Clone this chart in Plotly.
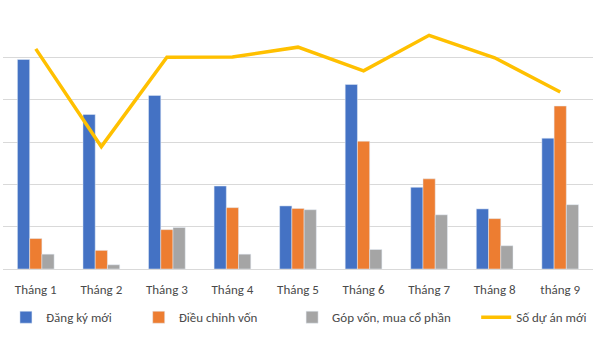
import plotly.graph_objects as go

months = ["Tháng 1", "Tháng 2", "Tháng 3", "Tháng 4", "Tháng 5", "Tháng 6", "Tháng 7", "Tháng 8", "tháng 9"]
dang_ky_moi = [4.95, 3.65, 4.10, 1.96, 1.49, 4.36, 1.93, 1.42, 3.09]
dieu_chinh_von = [0.72, 0.44, 0.93, 1.45, 1.43, 3.02, 2.13, 1.19, 3.85]
gop_von = [0.35, 0.10, 0.98, 0.35, 1.40, 0.46, 1.28, 0.55, 1.52]
so_du_an_moi = [5.20, 2.89, 5.00, 5.01, 5.24, 4.68, 5.52, 4.99, 4.18]

font = dict(family="Calibri, Carlito, 'Liberation Sans', sans-serif", size=13, color="#4a4a4a")

fig = go.Figure()
fig.add_bar(x=months, y=dang_ky_moi, name="Đăng ký mới", marker_color="#4472C4", legend="legend")
fig.add_bar(x=months, y=dieu_chinh_von, name="Điều chỉnh vốn", marker_color="#ED7D31", legend="legend2")
fig.add_bar(x=months, y=gop_von, name="Góp vốn, mua cổ phần", marker_color="#A5A5A5", legend="legend3")
fig.add_scatter(x=months, y=so_du_an_moi, name="Số dự án mới", mode="lines",
                line=dict(color="#FFC000", width=3.5), legend="legend4")

W, H = 600, 337
lg = dict(orientation="h", yanchor="middle", y=-0.19, xanchor="left", bgcolor="rgba(0,0,0,0)", font=font)
fig.update_layout(
    width=W, height=H,
    margin=dict(l=3, r=7, t=14.5, b=67.5),
    paper_bgcolor="white", plot_bgcolor="white",
    barmode="group", bargap=0.44, bargroupgap=0,
    font=font,
    showlegend=True,
    legend=dict(lg, x=0.005),
    legend2=dict(lg, x=0.23),
    legend3=dict(lg, x=0.49),
    legend4=dict(lg, x=0.802),
    xaxis=dict(showgrid=False, tickfont=font, ticks="", showline=True, linecolor="#D9D9D9", linewidth=1,
               ticklabelstandoff=8),
    yaxis=dict(range=[0, 6], dtick=1, showticklabels=False, showgrid=True, gridcolor="#D9D9D9",
               gridwidth=1, zeroline=False, fixedrange=True),
)
fig.write_html("out.html")
